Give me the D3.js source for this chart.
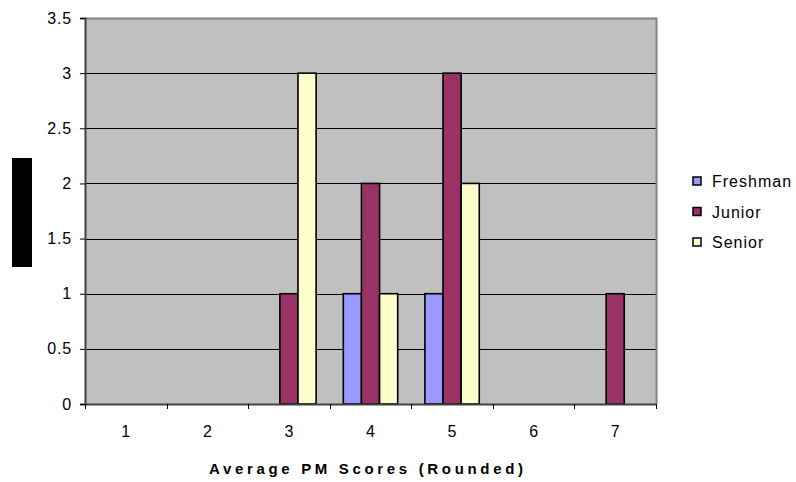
<!DOCTYPE html>
<html>
<head>
<meta charset="utf-8">
<script src="https://cdn.jsdelivr.net/npm/d3@7"></script>
<style>
  html, body { margin: 0; padding: 0; background: #fff; }
  svg { display: block; font-family: Arial, "Liberation Sans", sans-serif; }
</style>
</head>
<body>
<svg id="chart" width="796" height="482"></svg>
<script>
// PM score buckets and counts per class year
const categories = ["1", "2", "3", "4", "5", "6", "7"];
const seriesNames = ["Freshman", "Junior", "Senior"];
const freshman = [0, 0, 0, 1, 1, 0, 0];
const junior   = [0, 0, 1, 2, 3, 0, 1];
const senior   = [0, 0, 3, 1, 2, 0, 0];
const yTicks = [0, 0.5, 1, 1.5, 2, 2.5, 3, 3.5];
const colors = ["#9999ff", "#993366", "#ffffcc"];

const seriesValues = [freshman, junior, senior];
const rows = categories.map((c, i) => ({
  cat: c,
  vals: seriesNames.map((s, k) => ({ series: s, k, value: seriesValues[k][i] }))
}));

const FONT = "Arial, 'Liberation Sans', sans-serif";
const svg = d3.select("#chart");
const plot = { left: 85, top: 18, right: 656, bottom: 404 };

const x = d3.scaleBand().domain(categories).range([plot.left, plot.right]).padding(0);
// 150% gap width: each band holds 3 bars plus 1.5 bar widths of gap
const barW = x.bandwidth() / 4.5;
const x1 = d3.scaleBand().domain(seriesNames)
  .range([barW * 0.75, barW * 3.75]);
const y = d3.scaleLinear().domain([0, 3.5]).range([plot.bottom, plot.top]);

// plot background
svg.append("rect")
  .attr("x", plot.left).attr("y", plot.top)
  .attr("width", plot.right - plot.left).attr("height", plot.bottom - plot.top)
  .attr("fill", "#c0c0c0");

// gridlines
svg.append("g").selectAll("line")
  .data(yTicks.filter(d => d > 0 && d < 3.5))
  .join("line")
  .attr("x1", plot.left).attr("x2", plot.right)
  .attr("y1", d => Math.round(y(d)) + 0.5).attr("y2", d => Math.round(y(d)) + 0.5)
  .attr("stroke", "#000").attr("stroke-width", 1);

// plot border (top/right grey)
svg.append("path")
  .attr("d", `M${plot.left},${plot.top + 0.5}H${plot.right + 0.5}V${plot.bottom}`)
  .attr("fill", "none").attr("stroke", "#808080").attr("stroke-width", 2);

// bars
const groups = svg.append("g").selectAll("g")
  .data(rows).join("g")
  .attr("transform", d => `translate(${x(d.cat)},0)`);

groups.selectAll("rect")
  .data(d => d.vals.filter(v => v.value > 0))
  .join("rect")
  .attr("x", d => x1(d.series))
  .attr("y", d => y(d.value))
  .attr("width", barW)
  .attr("height", d => y(0) - y(d.value))
  .attr("fill", d => colors[d.k])
  .attr("stroke", "#000").attr("stroke-width", 1.6);

// y axis
const yAxis = d3.axisLeft(y).tickValues(yTicks).tickSize(5).tickPadding(8)
  .tickFormat(d => d3.format("")(d));
const gy = svg.append("g").attr("transform", `translate(${plot.left},0)`).call(yAxis);
gy.attr("font-size", 16).attr("font-family", FONT);
gy.select(".domain").attr("stroke", "#404040").attr("stroke-width", 2);
gy.selectAll(".tick line").attr("stroke", "#000");
gy.selectAll(".tick text").attr("fill", "#000").attr("letter-spacing", 0.8);

// x axis
const xAxis = d3.axisBottom(x).tickSize(0).tickPadding(0);
const gx = svg.append("g").attr("transform", `translate(0,${plot.bottom})`).call(xAxis);
gx.attr("font-size", 16).attr("font-family", FONT);
gx.select(".domain").attr("stroke", "#404040").attr("stroke-width", 2);
gx.selectAll(".tick text").attr("fill", "#000")
  .attr("dy", null).attr("y", 33);

// tick marks on category boundaries
const bounds = categories.map(c => x(c)).concat([plot.right]);
gx.append("g").selectAll("line")
  .data(bounds).join("line")
  .attr("x1", d => Math.round(d) + 0.5).attr("x2", d => Math.round(d) + 0.5)
  .attr("y1", 0).attr("y2", 5)
  .attr("stroke", "#000");

// x axis title
svg.append("text")
  .attr("x", 209).attr("y", 474)
  .attr("font-size", 15).attr("font-weight", "bold")
  .attr("font-family", FONT)
  .attr("textLength", 314).attr("lengthAdjust", "spacing")
  .text("Average PM Scores (Rounded)");

// y axis title block
svg.append("rect")
  .attr("x", 12).attr("y", 158).attr("width", 20).attr("height", 109)
  .attr("fill", "#000");

// legend
const legend = svg.append("g").selectAll("g")
  .data(seriesNames).join("g")
  .attr("transform", (d, i) => `translate(693,${177 + i * 30.5})`);
legend.append("rect")
  .attr("width", 8).attr("height", 8)
  .attr("fill", (d, i) => colors[i])
  .attr("stroke", "#000").attr("stroke-width", 1.5);
legend.append("text")
  .attr("x", 19).attr("y", 10)
  .attr("font-size", 16).attr("font-family", FONT)
  .attr("letter-spacing", 1)
  .text(d => d);
</script>
</body>
</html>
